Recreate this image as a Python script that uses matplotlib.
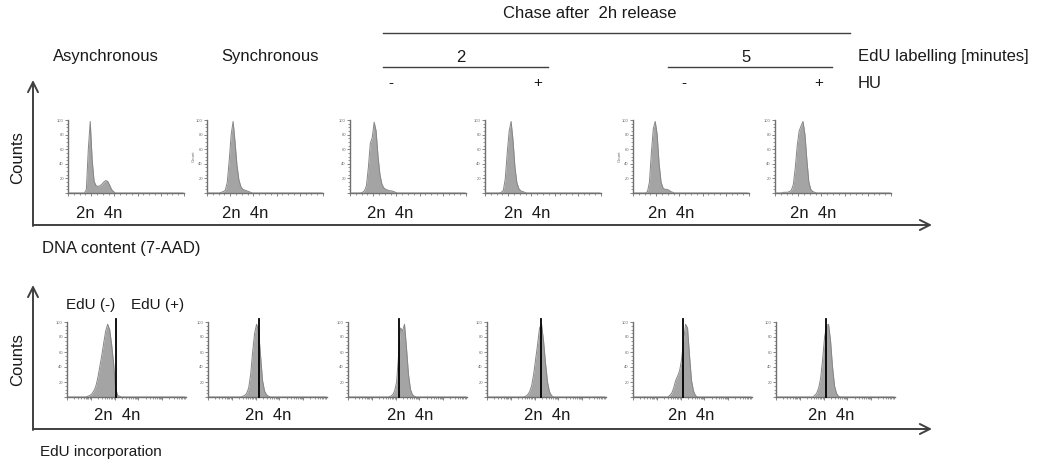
import numpy as np
import matplotlib
matplotlib.use("Agg")
import matplotlib.pyplot as plt
from matplotlib.ticker import FixedLocator, NullFormatter

plt.rcParams['font.family'] = ['Liberation Sans', 'DejaVu Sans']

# ---------------------------------------------------------------------------
# Data: flow-cytometry histograms (counts per channel bin, % of peak)
# ---------------------------------------------------------------------------
N_BINS = 60

conditions = ["Asynchronous", "Synchronous",
              "2 min / HU -", "2 min / HU +", "5 min / HU -", "5 min / HU +"]

# DNA content (7-AAD)
dna_async = [0, 0, 0, 0, 0, 0, 0, 0, 0, 5, 60, 98, 45, 16, 10, 9, 10, 12, 15,
             17, 16, 11, 5, 2]
dna_sync = [0, 0, 0, 0, 0, 0, 0, 1, 2, 4, 15, 45, 80, 98, 70, 38, 18, 9, 5,
            4, 3, 2, 1]
dna_2_minus = [0, 0, 0, 0, 0, 0, 1, 3, 10, 35, 68, 76, 97, 85, 50, 25, 12, 7,
               5, 4, 3, 3, 2, 1]
dna_2_plus = [0, 0, 0, 0, 0, 0, 0, 0, 1, 4, 20, 55, 85, 98, 72, 35, 14, 6, 3,
              2, 1]
dna_5_minus = [0, 0, 0, 0, 0, 0, 0, 2, 15, 55, 88, 98, 80, 40, 15, 7, 5, 5,
               4, 2, 1]
dna_5_plus = [0, 0, 0, 0, 1, 1, 1, 2, 4, 12, 35, 65, 85, 92, 98, 80, 45, 15,
              5, 2, 1]

# EdU incorporation
edu_async = [0, 0, 0, 0, 0, 0, 0, 0, 0, 0, 1, 2, 4, 8, 14, 25, 40, 55, 72,
             88, 97, 90, 70, 45, 12, 2, 1]
edu_sync = [0, 0, 0, 0, 0, 0, 0, 0, 0, 0, 0, 0, 0, 0, 0, 0, 0, 1, 2, 5, 12,
            30, 60, 85, 97, 88, 55, 22, 8, 3, 1]
edu_2_minus = [0, 0, 0, 0, 0, 0, 0, 0, 0, 0, 0, 0, 0, 0, 0, 0, 0, 0, 0, 0, 0,
               1, 3, 8, 20, 55, 92, 88, 97, 65, 30, 10, 3, 1]
edu_2_plus = [0, 0, 0, 0, 0, 0, 0, 0, 0, 0, 0, 0, 0, 0, 0, 0, 0, 0, 0, 1, 3,
              7, 15, 30, 50, 70, 92, 97, 75, 45, 20, 7, 2]
edu_5_minus = [0, 0, 0, 0, 0, 0, 0, 0, 0, 0, 0, 0, 0, 0, 0, 0, 0, 0, 2, 5, 12,
               22, 28, 35, 50, 75, 97, 92, 55, 22, 8, 2]
edu_5_plus = [0, 0, 0, 0, 0, 0, 0, 0, 0, 0, 0, 0, 0, 0, 0, 0, 0, 0, 0, 2, 5,
              12, 25, 50, 80, 95, 97, 75, 40, 15, 5, 1]

# EdU(-)/EdU(+) gate position (channel bin)
edu_gates = [24.5, 25.5, 25.5, 27.0, 25.4, 25.1]

dna_hists = [dna_async, dna_sync, dna_2_minus, dna_2_plus, dna_5_minus, dna_5_plus]
edu_hists = [edu_async, edu_sync, edu_2_minus, edu_2_plus, edu_5_minus, edu_5_plus]

# ---------------------------------------------------------------------------
# Figure in pixel units
# ---------------------------------------------------------------------------
W, H = 1040, 466
fig = plt.figure(figsize=(W / 100, H / 100), dpi=100)
bg = fig.add_axes([0, 0, 1, 1])
bg.set_xlim(0, W)
bg.set_ylim(H, 0)
bg.axis('off')

TXT = '#1a1a1a'
AX = '#404040'
FS = 12


def px_axes(x0, y0, x1, y1):
    return fig.add_axes([x0 / W, 1 - y1 / H, (x1 - x0) / W, (y1 - y0) / H])


def arrow(x0, y0, x1, y1):
    bg.annotate('', xy=(x1, y1), xytext=(x0, y0),
                arrowprops=dict(arrowstyle='->', color=AX, lw=1.4,
                                mutation_scale=18, shrinkA=0, shrinkB=0))


def mini_hist(ax, counts, log_axis=False, count_label=False):
    vals = np.zeros(N_BINS)
    vals[:len(counts)] = counts
    x = np.arange(N_BINS) + 0.5
    ax.fill_between(x, vals, color='#a4a4a4', lw=0, zorder=2)
    ax.plot(x, vals, color='#858585', lw=0.7, zorder=3)
    ax.set_xlim(0, N_BINS)
    ax.set_ylim(0, 100)
    ax.patch.set_alpha(0)
    for s in ('top', 'right'):
        ax.spines[s].set_visible(False)
    for s in ('left', 'bottom'):
        ax.spines[s].set_color('#707070')
        ax.spines[s].set_linewidth(1.0)
    if log_axis:
        minor = [d * 12 + 12 * np.log10(k) for d in range(5) for k in range(2, 10)]
        ax.xaxis.set_major_locator(FixedLocator([0, 12, 24, 36, 48]))
        ax.xaxis.set_minor_locator(FixedLocator(minor))
    else:
        ax.xaxis.set_major_locator(FixedLocator(np.arange(0, 61, 12)))
        ax.xaxis.set_minor_locator(FixedLocator(np.arange(0, 61, 3)))
    ax.yaxis.set_major_locator(FixedLocator(np.arange(0, 101, 20)))
    ax.yaxis.set_minor_locator(FixedLocator(np.arange(0, 101, 5)))
    ax.tick_params(which='major', length=2.5, width=0.6, color='#707070',
                   labelsize=3, labelcolor='#6a6a6a', pad=0.5)
    ax.tick_params(which='minor', length=1.5, width=0.5, color='#707070')
    ax.xaxis.set_major_formatter(NullFormatter())
    ax.set_yticklabels(['', '20', '40', '60', '80', '100'])
    if count_label:
        ax.set_ylabel('Count', fontsize=3.2, color='#6a6a6a', labelpad=0.5)


# ---- header -------------------------------------------------------------
bg.text(590, 14, 'Chase after  2h release', ha='center', va='center', fontsize=FS, color=TXT)
bg.plot([383, 850], [33, 33], color=AX, lw=1.0)
bg.text(106, 57, 'Asynchronous', ha='center', va='center', fontsize=FS, color=TXT)
bg.text(270, 57, 'Synchronous', ha='center', va='center', fontsize=FS, color=TXT)
bg.text(461, 57, '2', ha='center', va='center', fontsize=FS, color=TXT)
bg.text(746, 57, '5', ha='center', va='center', fontsize=FS, color=TXT)
bg.plot([383, 548], [67, 67], color=AX, lw=1.0)
bg.plot([668, 832], [67, 67], color=AX, lw=1.0)
bg.text(858, 57, 'EdU labelling [minutes]', ha='left', va='center', fontsize=FS, color=TXT)
bg.text(858, 83, 'HU', ha='left', va='center', fontsize=FS, color=TXT)
for xs, sign in zip([391, 538, 684, 819], ['-', '+', '-', '+']):
    bg.text(xs, 83, sign, ha='center', va='center', fontsize=FS - 1, color=TXT)

# ---- big axes -------------------------------------------------------------
arrow(33, 226, 33, 80)
arrow(33, 225, 932, 225)
arrow(33, 430, 33, 285)
arrow(33, 429, 932, 429)
bg.text(18, 158, 'Counts', rotation=90, ha='center', va='center', fontsize=FS, color=TXT)
bg.text(18, 360, 'Counts', rotation=90, ha='center', va='center', fontsize=FS, color=TXT)
bg.text(42, 248, 'DNA content (7-AAD)', ha='left', va='center', fontsize=FS, color=TXT)
bg.text(40, 452, 'EdU incorporation', ha='left', va='center', fontsize=FS - 1, color=TXT)

# ---- top row: DNA content -------------------------------------------------
top_left = [68, 207, 350, 485, 633, 775]
top_label_x = [99, 245, 390, 527, 671, 813]
for i, counts in enumerate(dna_hists):
    ax = px_axes(top_left[i], 120, top_left[i] + 116, 193)
    mini_hist(ax, counts, count_label=(i in (1, 4)))
    bg.text(top_label_x[i], 213, '2n  4n', ha='center', va='center', fontsize=FS, color=TXT)

# ---- bottom row: EdU incorporation ----------------------------------------
bot_left = [67, 208, 348, 487, 633, 776]
bot_label_x = [117, 268, 410, 547, 691, 831]
for i, counts in enumerate(edu_hists):
    ax = px_axes(bot_left[i], 322, bot_left[i] + 119, 397)
    mini_hist(ax, counts, log_axis=True)
    ax.axvline(edu_gates[i], ymin=0, ymax=1.04, color='black', lw=1.3,
               clip_on=False, zorder=4)
    bg.text(bot_label_x[i], 415, '2n  4n', ha='center', va='center', fontsize=FS, color=TXT)

bg.text(91, 305, 'EdU (-)', ha='center', va='center', fontsize=FS - 1, color=TXT)
bg.text(158, 305, 'EdU (+)', ha='center', va='center', fontsize=FS - 1, color=TXT)

fig.savefig('out.png', dpi=100)
